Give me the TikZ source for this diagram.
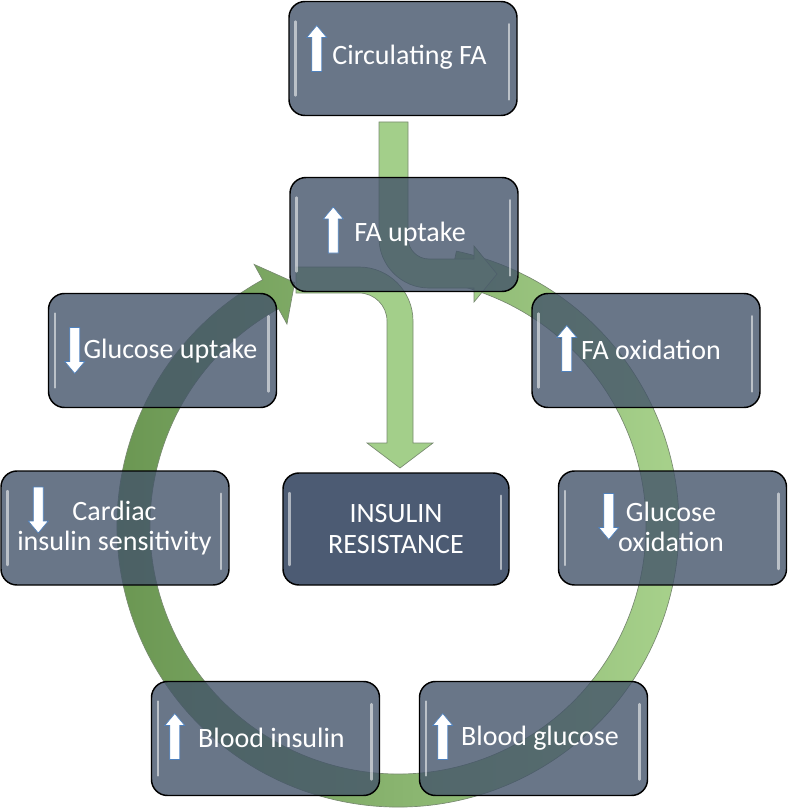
\documentclass[tikz,border=0pt]{standalone}
\usepackage{fontspec}
\setmainfont{Carlito}
\usepackage{tikz}
\usetikzlibrary{arrows.meta}

\definecolor{boxslate}{RGB}{68,84,106}
\definecolor{irslate}{RGB}{70,86,110}
\definecolor{ringdark}{RGB}{104,148,80}
\definecolor{ringlight}{RGB}{170,212,142}
\definecolor{arrowgreen}{RGB}{163,207,138}
\definecolor{greenline}{RGB}{120,138,112}
\definecolor{arrowblue}{RGB}{79,129,189}

\begin{document}
\begin{tikzpicture}[x=0.75pt,y=-0.75pt,
    box/.style={draw=black,line width=1.1pt,rounded corners=12pt,fill=boxslate,fill opacity=0.8,
        minimum width=171pt,minimum height=85.5pt,inner sep=0pt,gloss},
    gloss/.style={path picture={
        \draw[white,opacity=0.55,line width=1.8pt,line cap=round]
            ([xshift=5pt,yshift=-15pt]path picture bounding box.north west) -- ([xshift=5pt,yshift=15pt]path picture bounding box.south west);
        \draw[white,opacity=0.55,line width=1.8pt,line cap=round]
            ([xshift=-6pt,yshift=-17pt]path picture bounding box.north east) -- ([xshift=-6pt,yshift=12pt]path picture bounding box.south east);
    }},
    lbl/.style={text=white,font=\fontsize{21}{23}\selectfont,align=center,inner sep=0pt},
    greenarrow/.style={fill=arrowgreen,draw=greenline,line width=0.5pt},
    ringfill/.style={left color=ringdark,right color=ringlight,draw=greenline,line width=0.5pt},
    uparr/.pic={\draw[fill=white,draw=arrowblue,line width=0.5pt]
        (-5,23) -- (-5,-11) -- (-10,-11) -- (0,-23) -- (10,-11) -- (5,-11) -- (5,23) -- cycle;},
    dnarr/.pic={\draw[fill=white,draw=arrowblue,line width=0.5pt]
        (-5,-23) -- (-5,11) -- (-10,11) -- (0,23) -- (10,11) -- (5,11) -- (5,-23) -- cycle;}]

    \useasboundingbox (0,0) rectangle (788,809);

    % the cycle
    \begin{scope}[shift={(398,526)}]
        \path[ringfill] (-78:281) arc[start angle=-78,end angle=241.2,radius=281]
            -- (241.2:298.5) -- (247:264.5) -- (241.2:230.5) -- (241.2:248)
            arc[start angle=241.2,end angle=-78,radius=248] -- cycle;
    \end{scope}

    % FA uptake -> insulin resistance
    \path[greenarrow] (296,267) -- (359,267) arc[start angle=-90,end angle=0,radius=54]
        -- (413,443) -- (433,443) -- (400,468) -- (367,443) -- (387,443) -- (387,321)
        arc[start angle=0,end angle=-90,radius=28] -- (296,293) -- cycle;

    % circulating FA -> FA uptake
    \path[greenarrow] (379,122) -- (379,238) arc[start angle=180,end angle=90,radius=50]
        -- (474,288) -- (474,302) -- (497,274) -- (474,246) -- (474,259) -- (429,259)
        arc[start angle=90,end angle=180,radius=21] -- (408,122) -- cycle;

    \node[box] (circ) at (403,58.5) {};
    \node[box] (faup) at (404,234.5) {};
    \node[box] (gluup) at (162.5,350.5) {};
    \node[box] (faox) at (646,350.5) {};
    \node[box] (card) at (115,528) {};
    \node[box,fill=irslate,fill opacity=0.97,minimum width=169.5pt,minimum height=84pt] (ir) at (396,529) {};
    \node[box] (gluox) at (672.5,528) {};
    \node[box] (bins) at (265.5,738.5) {};
    \node[box] (bglu) at (533.5,738.5) {};

    \node[lbl] (circt) at (409.5,57) {Circulating FA};
    \node[lbl] (faupt) at (410,234) {FA uptake};
    \node[lbl] (gluupt) at (170.5,351) {Glucose uptake};
    \node[lbl] (faoxt) at (651,350) {FA oxidation};
    \node[lbl] (gluoxt) at (671,527) {Glucose\\oxidation};
    \node[lbl] (cardt) at (114.5,528) {Cardiac\\insulin sensitivity};
    \node[lbl] (irt) at (ir) {INSULIN\\RESISTANCE};
    \node[lbl] (binst) at (271.5,738) {Blood insulin};
    \node[lbl] (bglut) at (540,738) {Blood glucose};

    \pic at ([shift={(28.5,-10)}]circ.west) {uparr};
    \pic at ([shift={(44,-4.5)}]faup.west) {uparr};
    \pic at ([shift={(27,0)}]gluup.west) {dnarr};
    \pic at ([shift={(35.5,-2)}]faox.west) {uparr};
    \pic at ([shift={(51,-11.5)}]gluox.west) {dnarr};
    \pic at ([shift={(38,-18)}]card.west) {dnarr};
    \pic at ([shift={(24,-2)}]bins.west) {uparr};
    \pic at ([shift={(24,-2)}]bglu.west) {uparr};

\end{tikzpicture}
\end{document}
